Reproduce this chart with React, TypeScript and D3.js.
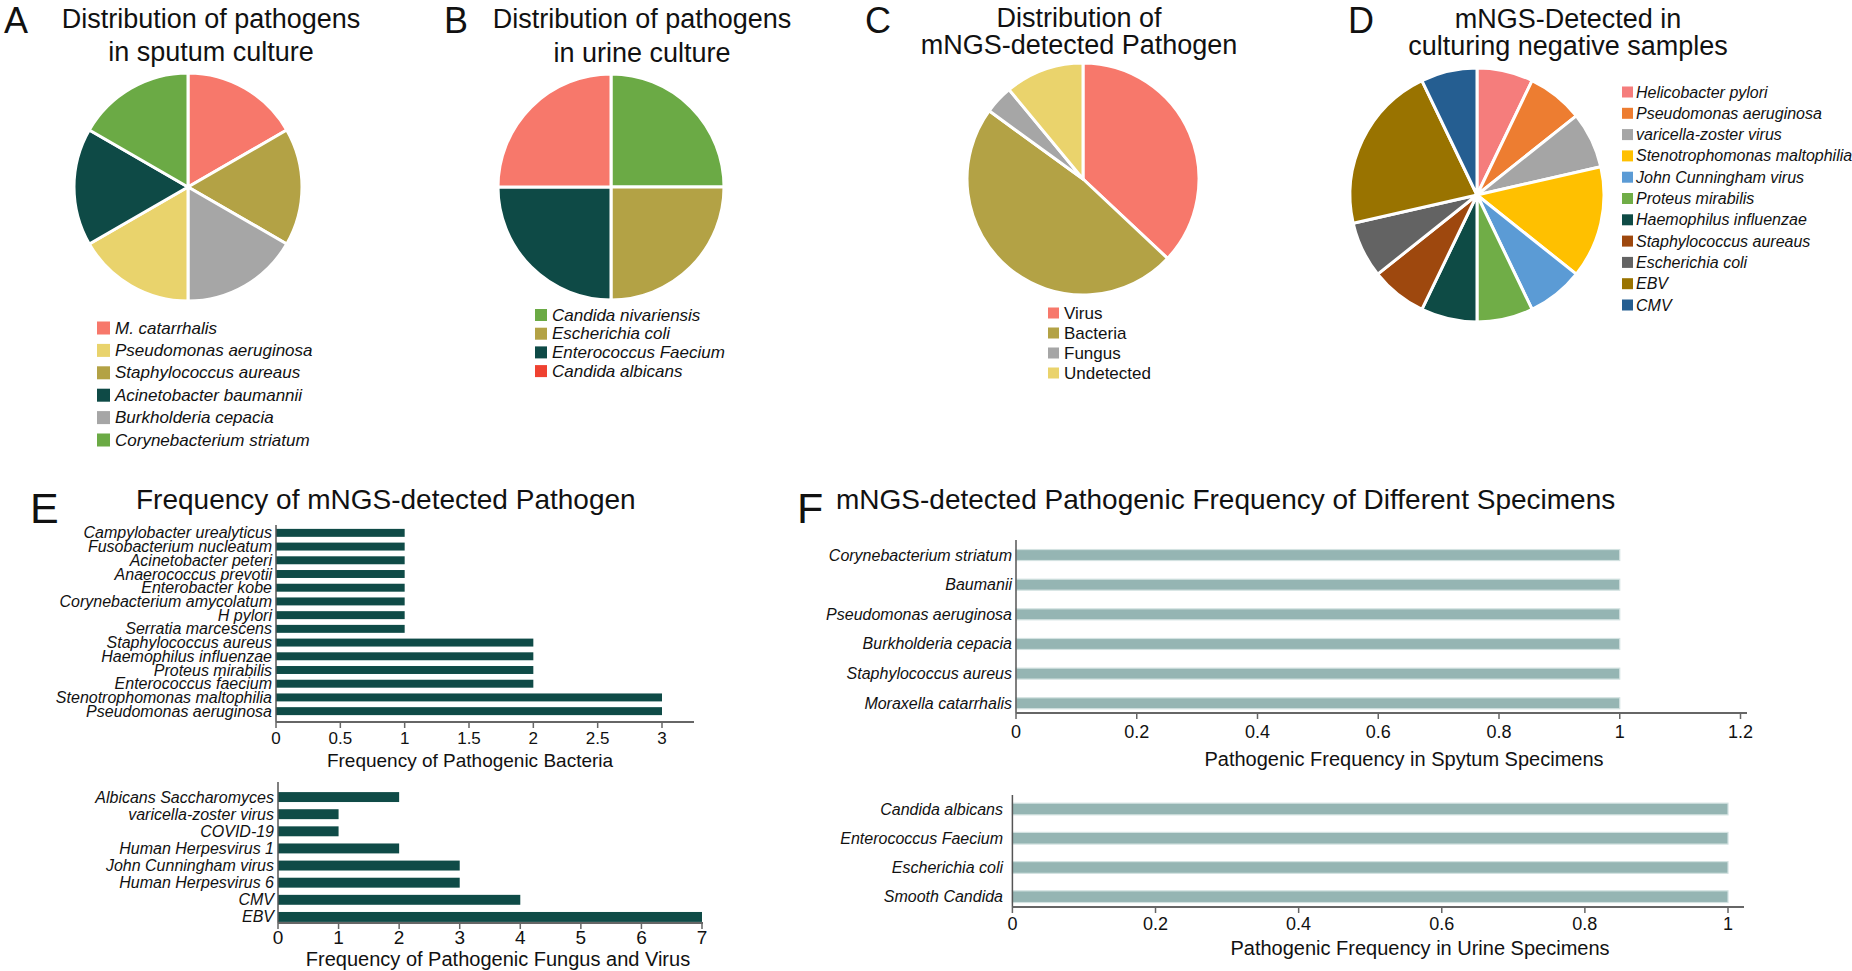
import React from 'react';
import * as d3 from 'd3';

const W = 1852;
const H = 971;
const FONT = '"Liberation Sans", Arial, Helvetica, sans-serif';

// ---------- Panel A: sputum culture (pie order, clockwise from 12 o'clock)
const sputumPieNames = ['M. catarrhalis', 'Staphylococcus aureaus', 'Burkholderia cepacia', 'Pseudomonas aeruginosa', 'Acinetobacter baumannii', 'Corynebacterium striatum'];
const sputumPieValues = [1, 1, 1, 1, 1, 1];
const sputumLegendNames = ['M. catarrhalis', 'Pseudomonas aeruginosa', 'Staphylococcus aureaus', 'Acinetobacter baumannii', 'Burkholderia cepacia', 'Corynebacterium striatum'];
const sputumColors: Record<string, string> = {
  'M. catarrhalis': '#F7786B',
  'Pseudomonas aeruginosa': '#E9D36C',
  'Staphylococcus aureaus': '#B3A245',
  'Acinetobacter baumannii': '#0E4A46',
  'Burkholderia cepacia': '#A6A6A6',
  'Corynebacterium striatum': '#6BAA45',
};

// ---------- Panel B: urine culture
const urineNames = ['Candida nivariensis', 'Escherichia coli', 'Enterococcus Faecium', 'Candida albicans'];
const urineValues = [1, 1, 1, 1];
const urinePieColors = ['#6BAA45', '#B3A245', '#0E4A46', '#F7786B'];
const urineLegendColors = ['#6BAA45', '#B3A245', '#0E4A46', '#EF4130'];

// ---------- Panel C: mNGS-detected pathogen distribution (%)
const mngsTypeNames = ['Virus', 'Bacteria', 'Fungus', 'Undetected'];
const mngsTypeValues = [37, 48, 4, 11];
const mngsTypeColors = ['#F7786B', '#B3A245', '#A6A6A6', '#EAD36C'];

// ---------- Panel D: mNGS detected in culture-negative samples
const negNames = ['Helicobacter pylori', 'Pseudomonas aeruginosa', 'varicella-zoster virus', 'Stenotrophomonas maltophilia', 'John Cunningham virus', 'Proteus mirabilis', 'Haemophilus influenzae', 'Staphylococcus aureaus', 'Escherichia coli', 'EBV', 'CMV'];
const negValues = [1, 1, 1, 2, 1, 1, 1, 1, 1, 3, 1];
const negColors = ['#F57D7C', '#ED7D31', '#A5A5A5', '#FFC000', '#5B9BD5', '#70AD47', '#0E4B45', '#9E480E', '#636363', '#997300', '#255E91'];

// ---------- Panel E top: bacteria frequency
const bacteriaNames = ['Campylobacter urealyticus', 'Fusobacterium nucleatum', 'Acinetobacter peteri', 'Anaerococcus prevotii', 'Enterobacter kobe', 'Corynebacterium amycolatum', 'H pylori', 'Serratia marcescens', 'Staphylococcus aureus', 'Haemophilus influenzae', 'Proteus mirabilis', 'Enterococcus faecium', 'Stenotrophomonas maltophilia', 'Pseudomonas aeruginosa'];
const bacteriaValues = [1, 1, 1, 1, 1, 1, 1, 1, 2, 2, 2, 2, 3, 3];
const bacteriaTicks = [0, 0.5, 1, 1.5, 2, 2.5, 3];

// ---------- Panel E bottom: fungus and virus frequency
const fvNames = ['Albicans Saccharomyces', 'varicella-zoster virus', 'COVID-19', 'Human Herpesvirus 1', 'John Cunningham virus', 'Human Herpesvirus 6', 'CMV', 'EBV'];
const fvValues = [2, 1, 1, 2, 3, 3, 4, 7];
const fvTicks = [0, 1, 2, 3, 4, 5, 6, 7];

// ---------- Panel F top: sputum specimens
const spNames = ['Corynebacterium striatum', 'Baumanii', 'Pseudomonas aeruginosa', 'Burkholderia cepacia', 'Staphylococcus aureus', 'Moraxella catarrhalis'];
const spValues = [1, 1, 1, 1, 1, 1];
const spTicks = [0, 0.2, 0.4, 0.6, 0.8, 1, 1.2];

// ---------- Panel F bottom: urine specimens
const urNames = ['Candida albicans', 'Enterococcus Faecium', 'Escherichia coli', 'Smooth Candida'];
const urValues = [1, 1, 1, 1];
const urTicks = [0, 0.2, 0.4, 0.6, 0.8, 1];

const fmt = (v: number) => String(+v.toFixed(2));

type PieProps = { cx: number; cy: number; r: number; values: number[]; colors: string[]; sw: number };
function Pie({ cx, cy, r, values, colors, sw }: PieProps) {
  const arcs = d3.pie<number>().sort(null).startAngle(0).endAngle(Math.PI * 2)(values);
  const arc = d3.arc<d3.PieArcDatum<number>>().innerRadius(0).outerRadius(r);
  return (
    <g transform={`translate(${cx},${cy})`}>
      {arcs.map((a, i) => (
        <path key={i} d={arc(a) || ''} fill={colors[i]} stroke="#fff" strokeWidth={sw} strokeLinejoin="round" />
      ))}
    </g>
  );
}

type LegendProps = { x: number; y0: number; step: number; box: number; names: string[]; colors: string[]; size: number; italic: boolean; gap: number };
function Legend({ x, y0, step, box, names, colors, size, italic, gap }: LegendProps) {
  return (
    <g>
      {names.map((n, i) => {
        const y = y0 + i * step;
        return (
          <g key={n + i}>
            <rect x={x} y={y - box / 2} width={box} height={box} fill={colors[i]} />
            <text x={x + box + gap} y={y} dominantBaseline="central" fontSize={size} fontStyle={italic ? 'italic' : 'normal'} fill="#111">{n}</text>
          </g>
        );
      })}
    </g>
  );
}

type BarProps = {
  names: string[]; values: number[]; ticks: number[];
  x0: number; x1: number; dmax: number; axisEnd: number;
  yTop: number; yBot: number; axisY: number; axisTop: number; pad: number;
  labelX: number; labelSize: number; tickSize: number; tickDy: number;
  color: string; stroke?: string; title: string; titleX: number; titleY: number; titleSize: number;
};
function HBar(p: BarProps) {
  const x = d3.scaleLinear().domain([0, p.dmax]).range([p.x0, p.x1]);
  const y = d3.scaleBand<string>().domain(p.names).range([p.yTop, p.yBot]).paddingInner(p.pad).paddingOuter(p.pad / 2);
  return (
    <g>
      {p.names.map((n, i) => (
        <rect key={n} x={x(0)} y={y(n)!} width={x(p.values[i]) - x(0)} height={y.bandwidth()} fill={p.color}
          stroke={p.stroke || 'none'} strokeWidth={p.stroke ? 1.2 : 0} />
      ))}
      <line x1={x(0)} x2={x(0)} y1={p.axisTop} y2={p.axisY} stroke="#555" strokeWidth={1.5} />
      <line x1={x(0)} x2={p.axisEnd} y1={p.axisY} y2={p.axisY} stroke="#666" strokeWidth={2} />
      {p.ticks.map((t) => (
        <g key={t}>
          <line x1={x(t)} x2={x(t)} y1={p.axisY} y2={p.axisY + 6} stroke="#666" strokeWidth={1.5} />
          <text x={x(t)} y={p.axisY + p.tickDy} textAnchor="middle" fontSize={p.tickSize} fill="#111">{fmt(t)}</text>
        </g>
      ))}
      {p.names.map((n) => (
        <text key={'l' + n} x={p.labelX} y={y(n)! + y.bandwidth() / 2} textAnchor="end" dominantBaseline="central"
          fontSize={p.labelSize} fontStyle="italic" fill="#111">{n}</text>
      ))}
      <text x={p.titleX} y={p.titleY} textAnchor="middle" fontSize={p.titleSize} fill="#111">{p.title}</text>
    </g>
  );
}

function Title({ lines, x, ys, size }: { lines: string[]; x: number; ys: number[]; size: number }) {
  return (
    <g>
      {lines.map((l, i) => (
        <text key={i} x={x} y={ys[i]} textAnchor="middle" fontSize={size} fill="#111">{l}</text>
      ))}
    </g>
  );
}

export default function App() {
  const aColors = sputumPieNames.map((n) => sputumColors[n]);
  const aLegColors = sputumLegendNames.map((n) => sputumColors[n]);
  return (
    <svg width={W} height={H} viewBox={`0 0 ${W} ${H}`} style={{ position: 'absolute', left: 0, top: 0, background: '#fff' }} fontFamily={FONT}>
      <rect width={W} height={H} fill="#fff" />
      {/* panel letters */}
      <g fill="#111">
        <text x={4} y={33} fontSize={36}>A</text>
        <text x={444} y={33} fontSize={36}>B</text>
        <text x={865} y={33} fontSize={36}>C</text>
        <text x={1348} y={33} fontSize={36}>D</text>
        <text x={30} y={523} fontSize={43}>E</text>
        <text x={797} y={523} fontSize={43}>F</text>
      </g>

      {/* A */}
      <Title lines={['Distribution of pathogens', 'in sputum culture']} x={211} ys={[28, 61]} size={27} />
      <Pie cx={188} cy={187} r={114} values={sputumPieValues} colors={aColors} sw={3} />
      <Legend x={97} y0={328} step={22.4} box={13} names={sputumLegendNames} colors={aLegColors} size={17} italic gap={5} />

      {/* B */}
      <Title lines={['Distribution of pathogens', 'in urine culture']} x={642} ys={[28, 62]} size={27} />
      <Pie cx={611} cy={187} r={113} values={urineValues} colors={urinePieColors} sw={3} />
      <Legend x={535} y0={315} step={18.7} box={12} names={urineNames} colors={urineLegendColors} size={17} italic gap={5} />

      {/* C */}
      <Title lines={['Distribution of', 'mNGS-detected Pathogen']} x={1079} ys={[27, 54]} size={27} />
      <Pie cx={1083} cy={179} r={116} values={mngsTypeValues} colors={mngsTypeColors} sw={3} />
      <Legend x={1048} y0={313} step={20} box={11} names={mngsTypeNames} colors={mngsTypeColors} size={17} italic={false} gap={5} />

      {/* D */}
      <Title lines={['mNGS-Detected in', 'culturing negative samples']} x={1568} ys={[28, 55]} size={27} />
      <Pie cx={1477} cy={195} r={127} values={negValues} colors={negColors} sw={3} />
      <Legend x={1622} y0={92} step={21.3} box={11} names={negNames} colors={negColors} size={16} italic gap={3} />

      {/* E */}
      <text x={136} y={509} fontSize={28} fill="#111">Frequency of mNGS-detected Pathogen</text>
      <HBar names={bacteriaNames} values={bacteriaValues} ticks={bacteriaTicks}
        x0={276} x1={662} dmax={3} axisEnd={694}
        yTop={526} yBot={718} axisY={722} axisTop={525} pad={0.42}
        labelX={272} labelSize={16} tickSize={17} tickDy={22}
        color="#0F4B47" title="Frequency of Pathogenic Bacteria" titleX={470} titleY={767} titleSize={19} />
      <HBar names={fvNames} values={fvValues} ticks={fvTicks}
        x0={278} x1={702} dmax={7} axisEnd={703}
        yTop={788.5} yBot={925.5} axisY={923} axisTop={782} pad={0.42}
        labelX={274} labelSize={16} tickSize={19} tickDy={21}
        color="#0F4B47" title="Frequency of Pathogenic Fungus and Virus" titleX={498} titleY={966} titleSize={20} />

      {/* F */}
      <text x={836} y={509} fontSize={28} fill="#111">mNGS-detected Pathogenic Frequency of Different Specimens</text>
      <HBar names={spNames} values={spValues} ticks={spTicks}
        x0={1016} x1={1740.5} dmax={1.2} axisEnd={1747}
        yTop={540.2} yBot={718.1} axisY={713} axisTop={540} pad={0.63}
        labelX={1012} labelSize={16} tickSize={18} tickDy={25}
        color="#95B5B3" stroke="#D3E2E1" title="Pathogenic Frequency in Spytum Specimens" titleX={1404} titleY={766} titleSize={20} />
      <HBar names={urNames} values={urValues} ticks={urTicks}
        x0={1012.4} x1={1728} dmax={1} axisEnd={1744}
        yTop={794.4} yBot={911.3} axisY={907} axisTop={795} pad={0.6}
        labelX={1003} labelSize={16} tickSize={18} tickDy={23}
        color="#95B5B3" stroke="#D3E2E1" title="Pathogenic Frequency in Urine Specimens" titleX={1420} titleY={955} titleSize={20} />
    </svg>
  );
}
